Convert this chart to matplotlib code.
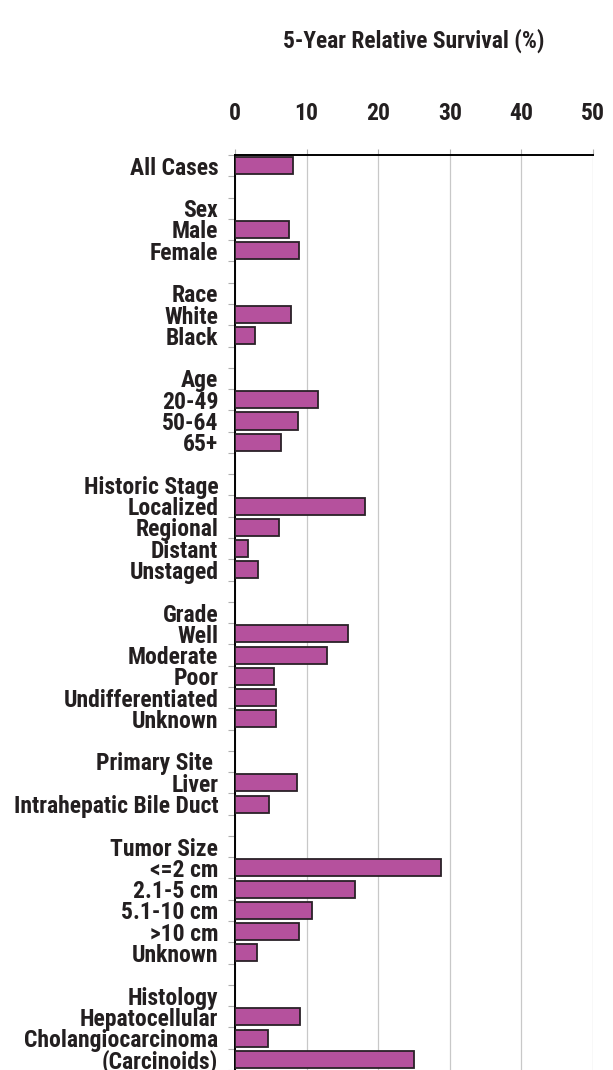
import numpy as np
import matplotlib
matplotlib.use("Agg")
from matplotlib import pyplot as plt
from matplotlib import font_manager as fm

# rows of the chart, top to bottom; header rows have no value
all_cases = [("All Cases", 8.1)]
sex = [("Sex", None), ("Male", 7.6), ("Female", 9.0)]
race = [("Race", None), ("White", 7.8), ("Black", 2.8)]
age = [("Age", None), ("20-49", 11.6), ("50-64", 8.8), ("65+", 6.4)]
stage = [("Historic Stage", None), ("Localized", 18.2), ("Regional", 6.1),
         ("Distant", 1.8), ("Unstaged", 3.2)]
grade = [("Grade", None), ("Well", 15.8), ("Moderate", 12.8), ("Poor", 5.4),
         ("Undifferentiated", 5.7), ("Unknown", 5.7)]
site = [("Primary Site ", None), ("Liver", 8.6), ("Intrahepatic Bile Duct", 4.8)]
size = [("Tumor Size", None), ("<=2 cm", 28.8), ("2.1-5 cm", 16.8),
        ("5.1-10 cm", 10.8), (">10 cm", 9.0), ("Unknown", 3.1)]
histology = [("Histology", None), ("Hepatocellular", 9.1),
             ("Cholangiocarcinoma", 4.6), ("(Carcinoids)", 25.0)]
x_ticks = [0, 10, 20, 30, 40, 50]
title = "5-Year Relative Survival (%)"

groups = [all_cases, sex, race, age, stage, grade, site, size, histology]
labels, values = [], []
for i, g in enumerate(groups):
    if i > 0:
        labels.append("")
        values.append(np.nan)
    for name, v in g:
        labels.append(name)
        values.append(np.nan if v is None else v)
values = np.array(values, dtype=float)
y = np.arange(len(labels))

# pick a narrow bold font if one is there
installed = {f.name for f in fm.fontManager.ttflist}
family, stretch = 'DejaVu Sans', 'condensed'
for cand in ['Liberation Sans Narrow', 'Roboto Condensed', 'Open Sans Condensed',
             'Arial Narrow', 'Noto Sans Condensed']:
    if cand in installed:
        family, stretch = cand, 'normal'
        break
plt.rcParams['font.family'] = [family, 'DejaVu Sans']
plt.rcParams['font.stretch'] = stretch
plt.rcParams['font.weight'] = 'bold'

text_color = '#231f20'
bar_color = '#b5519d'
fs = 17

fig = plt.figure(figsize=(6.13, 10.70), dpi=100)
ax = fig.add_axes([235 / 613, 0, 358 / 613, 1 - 155 / 1070])

ok = ~np.isnan(values)
ax.barh(y[ok], values[ok], height=0.8, color=bar_color,
        edgecolor='#2a2127', linewidth=1.3, zorder=3)

ax.set_xlim(0, 50)
ax.set_ylim(len(labels) - 0.5, -0.5)

# x axis on top
ax.xaxis.tick_top()
ax.set_xticks(x_ticks)
ax.tick_params(axis='x', which='major', length=4.5, width=0.8, color='#b0b0b0',
               pad=17, labelsize=fs, labelcolor=text_color)
ax.grid(axis='x', color='#c8c8c8', linewidth=0.9, zorder=0)

# y labels
ax.set_yticks(y)
ax.set_yticklabels(labels)
ax.tick_params(axis='y', which='major', length=0, pad=12,
               labelsize=fs, labelcolor=text_color)
ax.set_yticks(np.arange(len(labels) + 1) - 0.5, minor=True)
ax.tick_params(axis='y', which='minor', length=5, width=0.8, color='#b0b0b0')

for s in ['right', 'bottom']:
    ax.spines[s].set_visible(False)
ax.spines['top'].set_linewidth(1.4)
ax.spines['left'].set_linewidth(1.4)
ax.spines['top'].set_color('black')
ax.spines['left'].set_color('black')

ttl = fig.text((235 + 593) / 2 / 613, 1 - 41 / 1070, title,
               ha='center', va='center', fontsize=fs, color=text_color)

# shrink text so the widest label and the title fit their widths in the reference
fig.canvas.draw()
r = fig.canvas.get_renderer()
widest = max(t.get_window_extent(r).width for t in ax.get_yticklabels())
k = min(1.0, 208 / widest)
for t in ax.get_yticklabels():
    t.set_fontsize(fs * k)
tw = ttl.get_window_extent(r).width
ttl.set_fontsize(fs * min(1.0, 262 / tw))

fig.savefig("out.png", dpi=100)
